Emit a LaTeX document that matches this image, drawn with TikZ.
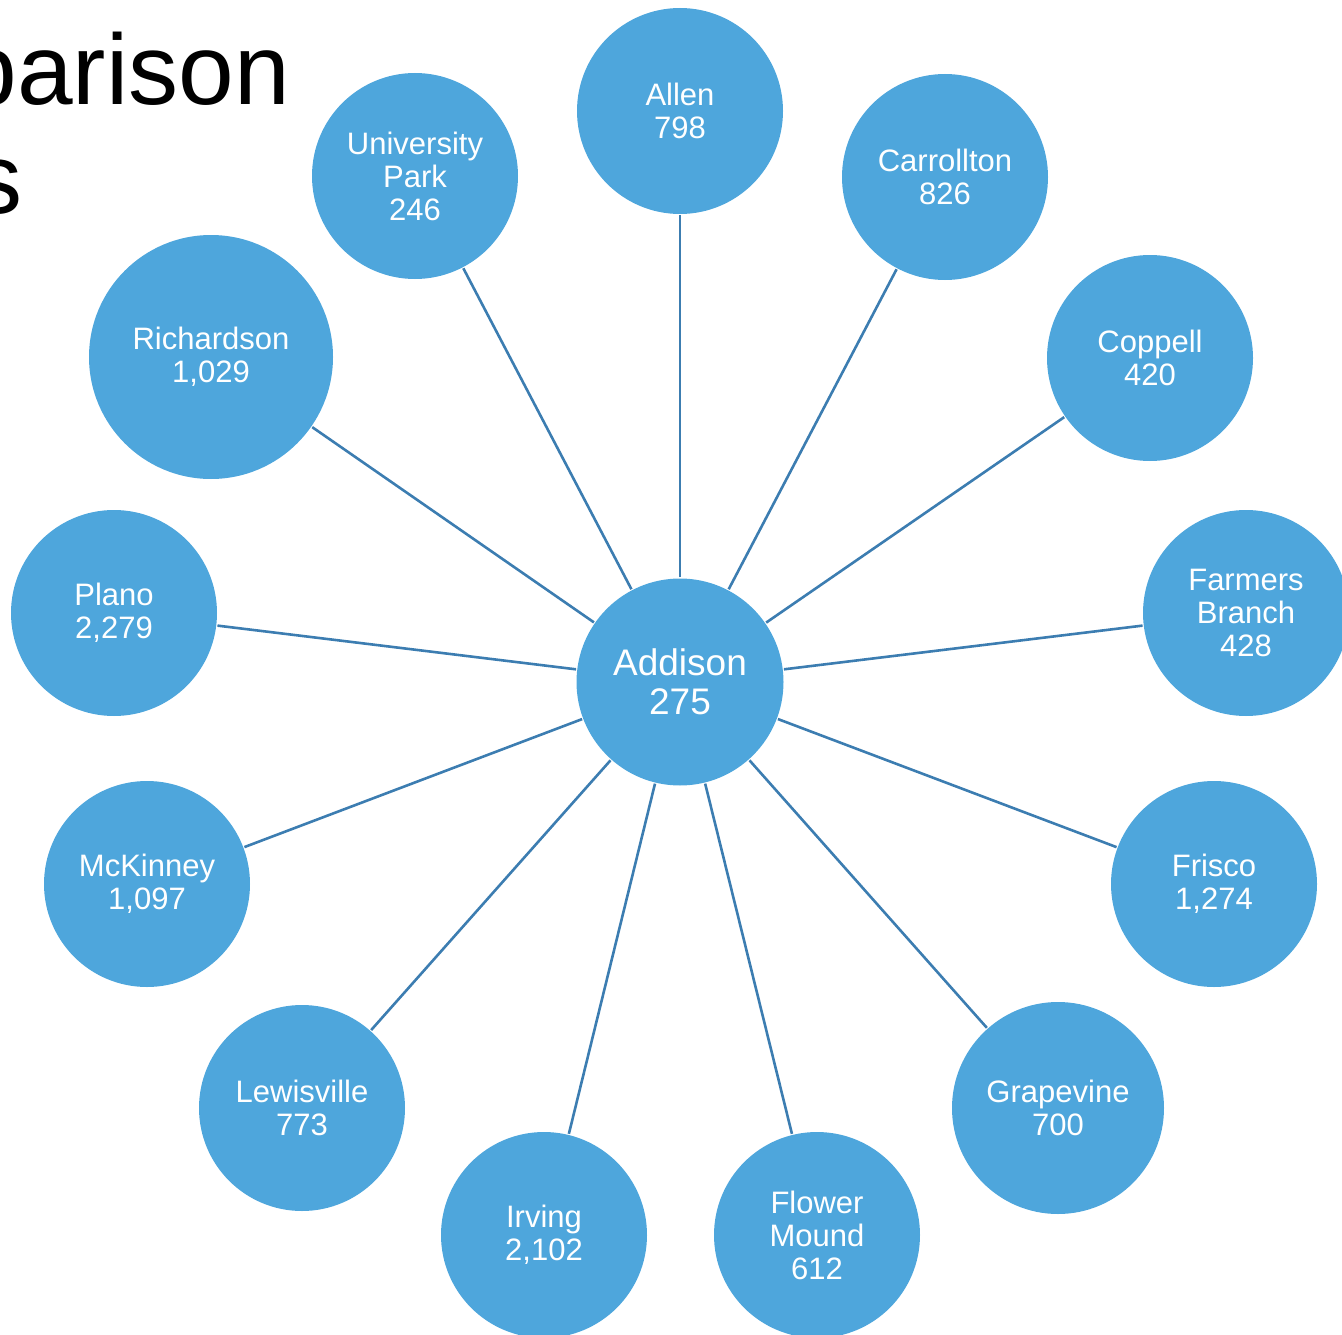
\documentclass[tikz,border=0pt]{standalone}
\usepackage{fontspec}
\setmainfont{Liberation Sans}
\definecolor{cityfill}{HTML}{4EA6DC}
\definecolor{spokeline}{HTML}{3C7DB1}

\tikzset{
  city/.style={circle, fill=cityfill, text=white, inner sep=0pt, minimum size=206pt,
    align=center, font=\fontsize{31}{33}\selectfont},
  hub/.style={city, minimum size=207pt, font=\fontsize{37}{39}\selectfont},
  spoke/.style={draw=spokeline, line width=2.6pt, shorten <=1pt, shorten >=1pt},
  heading/.style={anchor=base east, inner sep=0pt, font=\fontsize{100}{108}\selectfont}
}

\begin{document}
\begin{tikzpicture}[x=1pt,y=-1pt]

    \useasboundingbox (0,0) rectangle (1342,1335);

    \node (title) [heading] at (290,105) {Comparison};
    \node (subtitle) [heading] at (23,213) {s};

    \node (addison) [hub] at (680,682) {Addison\\275};

    \node (allen) [city] at (680,111) {Allen\\798};
    \node (carrollton) [city] at (945,177) {Carrollton\\826};
    \node (coppell) [city] at (1150,358) {Coppell\\420};
    \node (farmers) [city] at (1246,613) {Farmers\\Branch\\428};
    \node (frisco) [city] at (1214,884) {Frisco\\1,274};
    \node (grapevine) [city, minimum size=212pt] at (1058,1108) {Grapevine\\700};
    \node (flower) [city] at (817,1235) {Flower\\Mound\\612};
    \node (irving) [city] at (544,1235) {Irving\\2,102};
    \node (lewisville) [city] at (302,1108) {Lewisville\\773};
    \node (mckinney) [city] at (147,884) {McKinney\\1,097};
    \node (plano) [city] at (114,613) {Plano\\2,279};
    \node (richardson) [city, minimum size=244pt] at (211,357) {Richardson\\1,029};
    \node (university) [city] at (415,176) {University\\Park\\246};

    \foreach \c in {allen,carrollton,coppell,farmers,frisco,grapevine,flower,irving,lewisville,mckinney,plano,richardson,university}
    \draw[spoke] (addison) -- (\c);

\end{tikzpicture}
\end{document}
